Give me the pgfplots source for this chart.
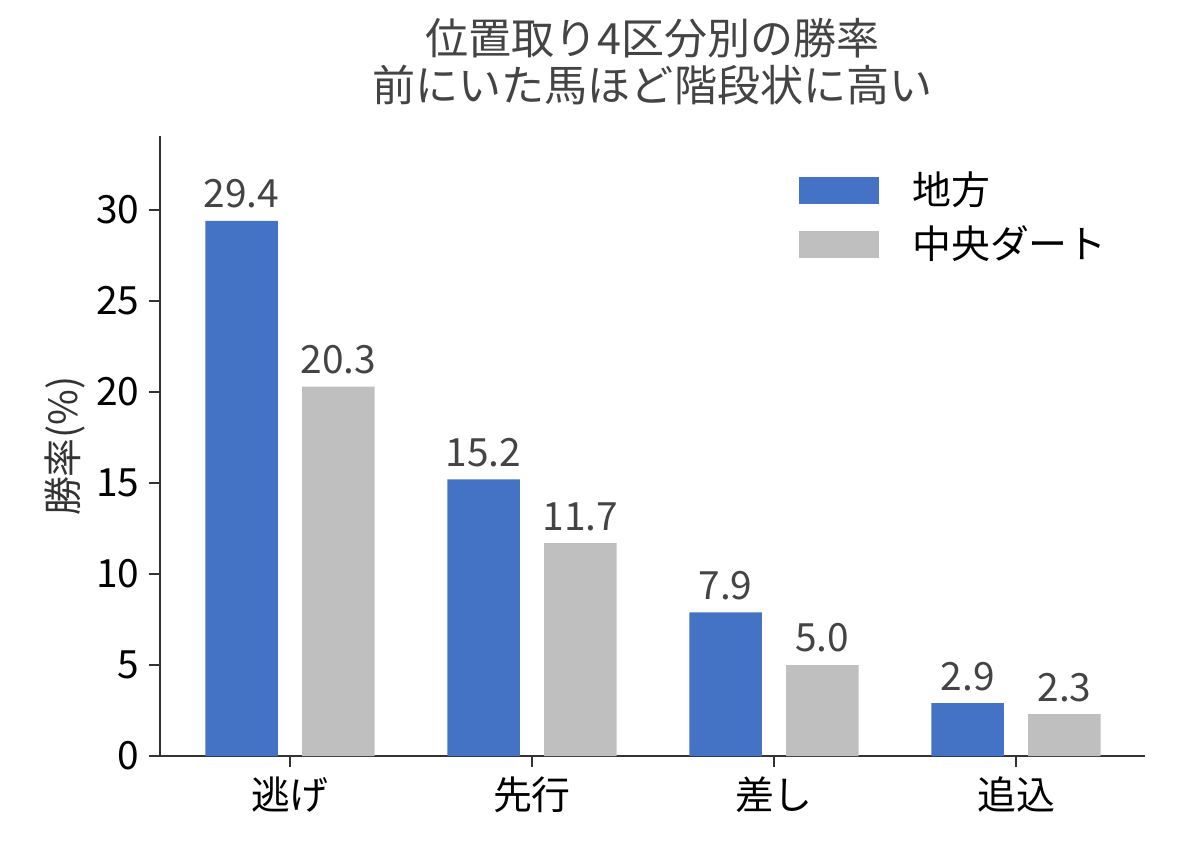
\documentclass[border=0pt]{standalone}
\usepackage{fontspec}
\setmainfont{Noto Sans CJK JP}
\usepackage{pgfplots}
\pgfplotsset{compat=1.18}
\definecolor{chihou}{HTML}{4472C4}
\definecolor{chuou}{HTML}{BFBFBF}
\definecolor{labgray}{HTML}{444444}
\definecolor{spine}{HTML}{333333}

\begin{document}
\begin{tikzpicture}
  % 1 px of the reference = 0.36pt
  \path[use as bounding box] (0pt,0pt) rectangle (427.68pt,308.88pt);
  \begin{axis}[
      at={(57.6pt,36.72pt)}, anchor=south west,
      scale only axis,
      width=354.6pt, height=223.2pt,
      ybar, bar width=0.3,
      xmin=-0.537, xmax=3.533,
      ymin=0, ymax=34.07,
      axis x line*=bottom, axis y line*=left,
      axis line style={spine, line width=0.8pt},
      tick style={spine, line width=0.8pt},
      tick align=outside, major tick length=3.9pt,
      xtick={0,1,2,3},
      xticklabels={逃げ,先行,差し,追込},
      ytick={0,5,...,30},
      /pgf/number format/assume math mode=true,
      ticklabel style={font=\fontsize{14}{16}\selectfont, text=black},
      ylabel={勝率(\%)},
      ylabel style={at={(axis description cs:-0.0964,0.5)}, anchor=center,
        font=\fontsize{14}{16}\selectfont, text=spine},
      title={位置取り4区分別の勝率\\前にいた馬ほど階段状に高い},
      title style={at={(axis description cs:0.5,1)}, anchor=south,
        inner sep=0pt, yshift=5pt, align=center,
        font=\fontsize{15.5}{16.9}\selectfont, text=labgray},
      nodes near coords={\pgfmathprintnumber[fixed,fixed zerofill,precision=1,assume math mode=true]{\pgfplotspointmeta}},
      every node near coord/.append style={anchor=base, inner sep=0pt, yshift=4.7pt,
        font=\fontsize{14}{16}\selectfont, text=labgray},
      legend cell align=left,
      legend image code/.code={\fill[#1] (0pt,-5pt) rectangle (28.8pt,5pt);},
      legend style={draw=none, fill=none, inner sep=0pt, outer sep=0pt,
        at={(axis description cs:0.6487,0.942)}, anchor=north west,
        font=\fontsize{14}{16}\selectfont,
        nodes={inner sep=0pt}, row sep=6.1pt, column sep=12pt},
    ]
    \addplot[fill=chihou, draw=none, bar shift=-0.2] coordinates {
      (0,29.4) (1,15.2) (2,7.9) (3,2.9)};
    \addlegendentry{地方}
    \addplot[fill=chuou, draw=none, bar shift=0.2] coordinates {
      (0,20.3) (1,11.7) (2,5.0) (3,2.3)};
    \addlegendentry{中央ダート}
  \end{axis}
\end{tikzpicture}
\end{document}
